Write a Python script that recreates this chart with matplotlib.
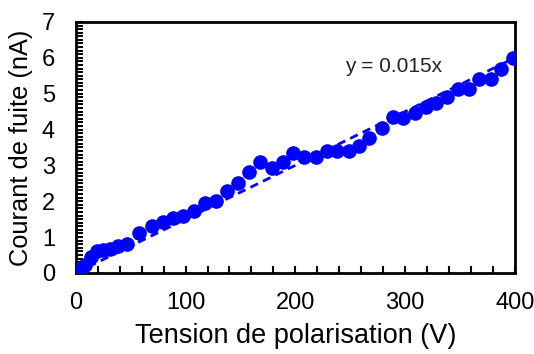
import matplotlib.pyplot as plt
from matplotlib.ticker import MultipleLocator

plt.rcParams['font.family'] = ['Liberation Sans', 'DejaVu Sans']

# mesures : tension (V) et courant de fuite (nA)
tension = [0, 4, 8, 14, 19, 25, 31, 38, 47, 58, 69, 79, 89, 98, 108, 118, 128,
           138, 148, 158, 168, 179, 189, 198, 208, 219, 229, 238, 249, 258, 267,
           279, 289, 298, 309, 319, 328, 338, 348, 358, 367, 378, 387, 398]
courant = [0.03, 0.08, 0.22, 0.45, 0.6, 0.65, 0.67, 0.76, 0.8, 1.12, 1.31, 1.42,
           1.53, 1.6, 1.73, 1.95, 2.01, 2.29, 2.51, 2.82, 3.1, 2.93, 3.1, 3.35,
           3.24, 3.23, 3.41, 3.41, 3.41, 3.53, 3.75, 4.05, 4.34, 4.33, 4.45, 4.62,
           4.73, 4.9, 5.14, 5.12, 5.4, 5.4, 5.7, 6.0]
pente = 0.015
fit_x = [0, 400]

fig = plt.figure(figsize=(5.34, 3.54), dpi=100)
ax = fig.add_axes([0.142, 0.229, 0.822, 0.709])

ax.plot(tension, courant, 'o', color='#0000FF', markersize=9.5, zorder=3)
ax.plot(fit_x, [pente * v for v in fit_x], '--', color='#0000FF', linewidth=2,
        dashes=(3, 2), zorder=2)

ax.text(245, 5.77, 'y = 0.015x', fontsize=15, ha='left', va='center', color='#222222')

ax.set_xlim(0, 400)
ax.set_ylim(0, 7)
ax.xaxis.set_major_locator(MultipleLocator(100))
ax.xaxis.set_minor_locator(MultipleLocator(20))
ax.yaxis.set_major_locator(MultipleLocator(1))
ax.yaxis.set_minor_locator(MultipleLocator(0.1))
ax.tick_params(which='both', direction='in', labelsize=17, width=1.5, length=5)
ax.tick_params(axis='x', pad=14)
ax.tick_params(axis='y', pad=15)
for s in ax.spines.values():
    s.set_linewidth(2)

ax.set_xlabel('Tension de polarisation (V)', fontsize=19.5, labelpad=6)
ax.set_ylabel('Courant de fuite (nA)', fontsize=18.3, labelpad=6)

fig.savefig('out.png', dpi=100)
